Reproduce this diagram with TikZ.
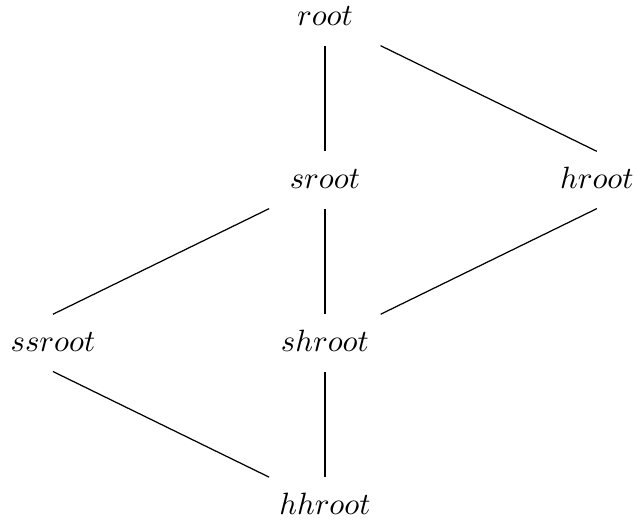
\documentclass[tikz,border=0pt]{standalone}
\usepackage{amsmath, amssymb}
\usepackage{tikz}
\tikzset{
    vert/.style={anchor=base, inner sep=0pt, minimum width=35.8pt,
        text height=12pt, text depth=6.2pt}}

\begin{document}
\begin{tikzpicture}[x=88.3pt, y=52.9pt]
                    \useasboundingbox (-17.2pt,8.44pt) rectangle (190.3pt,-160.7pt);

                    \node[vert] (R) at (1,0) {$root$};
                    \node[vert] (S) at (1,-1) {$sroot$};
                    \node[vert] (H) at (2,-1) {$hroot$};
                    \node[vert] (SS) at (0,-2) {$ssroot$};
                    \node[vert] (SH) at (1,-2) {$shroot$};
                    \node[vert] (HH) at (1,-3) {$hhroot$};

                    \draw (R.south) -- (S.north);
                    \draw (R.south east) -- (H.north);
                    \draw (S.south west) -- (SS.north);
                    \draw (S.south) -- (SH.north);
                    \draw (H.south) -- (SH.north east);
                    \draw (SS.south) -- (HH.north west);
                    \draw (SH.south) -- (HH.north);

\end{tikzpicture}
\end{document}
